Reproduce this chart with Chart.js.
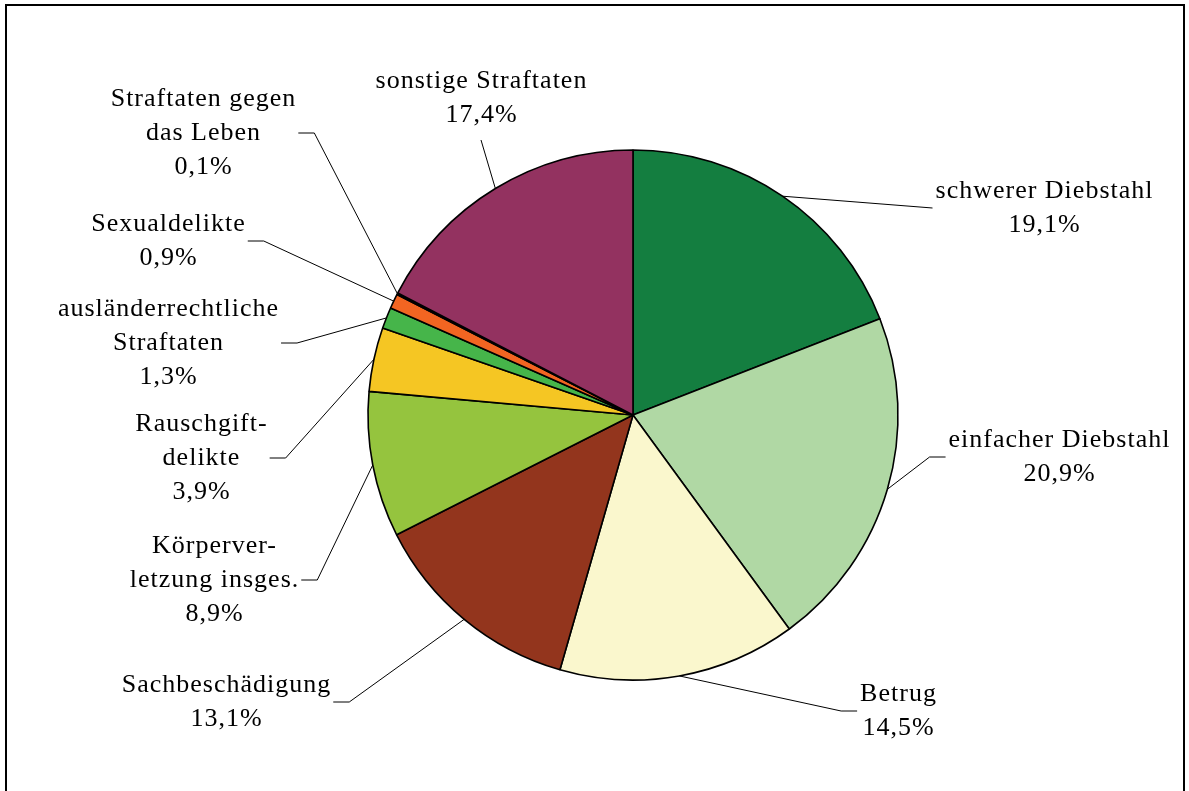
<!DOCTYPE html>
<html>
<head>
<meta charset="utf-8">
<script src="https://cdn.jsdelivr.net/npm/chart.js@4"></script>
<style>
  html, body { margin: 0; padding: 0; background: #fff; }
  canvas { display: block; }
</style>
</head>
<body>
<canvas id="c" width="1189" height="791"></canvas>
<script>
// ---- data ----
const categories = [
  'schwerer Diebstahl', 'einfacher Diebstahl', 'Betrug', 'Sachbeschädigung',
  'Körperverletzung insges.', 'Rauschgiftdelikte', 'ausländerrechtliche Straftaten',
  'Sexualdelikte', 'Straftaten gegen das Leben', 'sonstige Straftaten'
];
const values = [19.1, 20.9, 14.5, 13.1, 8.9, 3.9, 1.3, 0.9, 0.1, 17.4];
const labelLines = [
  ['schwerer Diebstahl'], ['einfacher Diebstahl'], ['Betrug'], ['Sachbeschädigung'],
  ['Körperver-', 'letzung insges.'], ['Rauschgift-', 'delikte'],
  ['ausländerrechtliche', 'Straftaten'], ['Sexualdelikte'],
  ['Straftaten gegen', 'das Leben'], ['sonstige Straftaten']
];
const colors = ['#147E40', '#B0D8A4', '#FAF7CD', '#93351D', '#95C43E',
                '#F5C623', '#46B54A', '#F26522', '#C1272D', '#933260'];

// ---- label layout (box centre, side where the leader attaches) ----
const labelLayout = [
  { cx: 1044, cy: 208, side: 'left' },
  { cx: 1059, cy: 457, side: 'left' },
  { cx: 898,  cy: 711, side: 'left' },
  { cx: 226,  cy: 702, side: 'right' },
  { cx: 214,  cy: 580, side: 'right' },
  { cx: 201,  cy: 458, side: 'right' },
  { cx: 168,  cy: 343, side: 'right' },
  { cx: 168,  cy: 241, side: 'right' },
  { cx: 203,  cy: 133, side: 'right' },
  { cx: 481,  cy: 98,  side: 'bottom' }
];
const FONT = '26px "Liberation Serif", "Times New Roman", serif';
const LINE_H = 34;
const LETTER_SP = 1;

function fmt(v) { return v.toFixed(1).replace('.', ',') + '%'; }

const framePlugin = {
  id: 'frame',
  afterDraw(chart) {
    const ctx = chart.ctx;
    ctx.save();
    ctx.strokeStyle = '#000';
    ctx.lineWidth = 2;
    ctx.strokeRect(6, 5, 1178, 820);
    ctx.restore();
  }
};

const labelPlugin = {
  id: 'pieLabels',
  afterDatasetsDraw(chart) {
    const ctx = chart.ctx;
    const meta = chart.getDatasetMeta(0);
    ctx.save();
    ctx.font = FONT;
    if ('letterSpacing' in ctx) ctx.letterSpacing = LETTER_SP + 'px';
    ctx.fillStyle = '#000';
    ctx.textAlign = 'left';
    ctx.textBaseline = 'middle';
    meta.data.forEach((arc, i) => {
      const lay = labelLayout[i];
      const lines = labelLines[i].concat([fmt(values[i])]);
      const n = lines.length;
      let w = 0;
      lines.forEach((t, k) => {
        const y = lay.cy + (k - (n - 1) / 2) * LINE_H;
        const tw = ctx.measureText(t).width - LETTER_SP;
        ctx.fillText(t, lay.cx - tw / 2, y);
        w = Math.max(w, tw);
      });
      // leader line
      const mid = (arc.startAngle + arc.endAngle) / 2;
      const sx = arc.x + Math.cos(mid) * arc.outerRadius;
      const sy = arc.y + Math.sin(mid) * arc.outerRadius;
      ctx.beginPath();
      ctx.strokeStyle = '#000';
      ctx.lineWidth = 1;
      ctx.moveTo(sx, sy);
      if (lay.side === 'left') {
        const ex = lay.cx - w / 2 - 3;
        if (i === 0) {
          ctx.lineTo(ex, lay.cy);
        } else {
          ctx.lineTo(ex - 16, lay.cy);
          ctx.lineTo(ex, lay.cy);
        }
      } else if (lay.side === 'right') {
        const ex = lay.cx + w / 2 + 3;
        ctx.lineTo(ex + 16, lay.cy);
        ctx.lineTo(ex, lay.cy);
      } else {
        ctx.lineTo(lay.cx, lay.cy + n * LINE_H / 2 + 8);
      }
      ctx.stroke();
    });
    ctx.restore();
  }
};

function draw() {
  new Chart(document.getElementById('c'), {
    type: 'pie',
    data: {
      labels: categories,
      datasets: [{
        data: values,
        backgroundColor: colors,
        borderColor: '#000',
        borderWidth: 1.6,
        radius: 265
      }]
    },
    options: {
      responsive: false,
      animation: false,
      devicePixelRatio: 1,
      events: [],
      layout: { padding: { left: 368, right: 291, top: 150, bottom: 111 } },
      plugins: { legend: { display: false }, tooltip: { enabled: false } }
    },
    plugins: [labelPlugin, framePlugin]
  });
}
if (document.fonts && document.fonts.load) {
  document.fonts.load(FONT).then(draw, draw);
} else {
  draw();
}
</script>
</body>
</html>
